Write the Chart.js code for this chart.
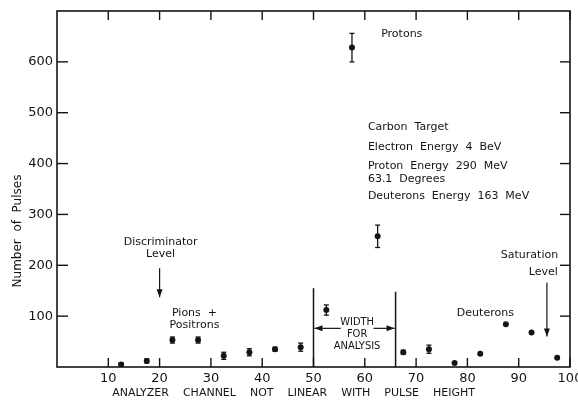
<!DOCTYPE html>
<html>
<head>
<meta charset="utf-8">
<script src="https://cdn.jsdelivr.net/npm/chart.js@4.4.0/dist/chart.umd.min.js"></script>
<style>
  html, body { margin: 0; padding: 0; background: #fff; }
  #wrap { width: 578px; height: 403px; }
</style>
</head>
<body>
<div id="wrap"><canvas id="pulses"></canvas></div>
<script>
// analyzer channel (bin centres) and counts
const channels = [12.5, 17.5, 22.5, 27.5, 32.5, 37.5, 42.5, 47.5, 52.5, 57.5, 62.5, 67.5, 72.5, 77.5, 82.5, 87.5, 92.5, 97.5];
const pulses = [5, 12, 53, 53, 22, 29, 35, 39, 112, 628, 257, 29, 35, 8, 26, 84, 68, 18];
const pulseErrors = [3, 4, 6, 6, 7, 7, 4, 8, 10, 28, 22, 4, 8, 0, 0, 0, 0, 0];
const xTicks = [10, 20, 30, 40, 50, 60, 70, 80, 90, 100];
const yTicks = [100, 200, 300, 400, 500, 600];

const INK = "#141414";
const FONT = "DejaVu Sans";

const paperPlugin = {
  id: "paper",
  afterDatasetsDraw(chart) {
    const { ctx, chartArea: a, scales: { x, y } } = chart;
    const line = (x1, y1, x2, y2) => { ctx.beginPath(); ctx.moveTo(x1, y1); ctx.lineTo(x2, y2); ctx.stroke(); };
    const arrow = (x1, y1, x2, y2) => {
      line(x1, y1, x2, y2);
      const ang = Math.atan2(y2 - y1, x2 - x1), len = 8, w = 3;
      ctx.beginPath();
      ctx.moveTo(x2, y2);
      ctx.lineTo(x2 - len * Math.cos(ang) + w * Math.sin(ang), y2 - len * Math.sin(ang) - w * Math.cos(ang));
      ctx.lineTo(x2 - len * Math.cos(ang) - w * Math.sin(ang), y2 - len * Math.sin(ang) + w * Math.cos(ang));
      ctx.closePath();
      ctx.fill();
    };
    const text = (s, vx, vy, align = "center", font = `11px ${FONT}`) => {
      ctx.font = font;
      ctx.textAlign = align;
      ctx.textBaseline = "middle";
      ctx.fillText(s, x.getPixelForValue(vx), y.getPixelForValue(vy));
    };

    ctx.save();
    ctx.strokeStyle = INK;
    ctx.fillStyle = INK;

    // frame + inward ticks on all four sides
    ctx.lineWidth = 1.6;
    ctx.strokeRect(a.left, a.top, a.right - a.left, a.bottom - a.top);
    ctx.lineWidth = 1.4;
    x.ticks.forEach(t => {
      const px = x.getPixelForValue(t.value);
      line(px, a.bottom, px, a.bottom - 9);
      line(px, a.top, px, a.top + 9);
    });
    y.ticks.forEach(t => {
      const py = y.getPixelForValue(t.value);
      line(a.left, py, a.left + 11, py);
      line(a.right, py, a.right - 10, py);
    });

    // error bars
    ctx.lineWidth = 1.3;
    channels.forEach((c, i) => {
      if (!pulseErrors[i]) return;
      const px = x.getPixelForValue(c);
      const top = y.getPixelForValue(pulses[i] + pulseErrors[i]);
      const bot = y.getPixelForValue(pulses[i] - pulseErrors[i]);
      line(px, top, px, bot);
      line(px - 2.5, top, px + 2.5, top);
      line(px - 2.5, bot, px + 2.5, bot);
    });

    // width for analysis
    ctx.lineWidth = 1.5;
    line(x.getPixelForValue(50), a.bottom, x.getPixelForValue(50), y.getPixelForValue(155));
    line(x.getPixelForValue(66), a.bottom, x.getPixelForValue(66), y.getPixelForValue(148));
    ctx.lineWidth = 1.2;
    arrow(x.getPixelForValue(55.3), y.getPixelForValue(76), x.getPixelForValue(50.2), y.getPixelForValue(76));
    arrow(x.getPixelForValue(61.7), y.getPixelForValue(76), x.getPixelForValue(65.8), y.getPixelForValue(76));
    const narrow = `11px "DejaVu Sans Condensed", ${FONT}`;
    text("WIDTH", 58.5, 89, "center", narrow);
    text("FOR", 58.5, 65, "center", narrow);
    text("ANALYSIS", 58.5, 41, "center", narrow);

    // level arrows
    arrow(x.getPixelForValue(20), y.getPixelForValue(194), x.getPixelForValue(20), y.getPixelForValue(137));
    arrow(x.getPixelForValue(95.5), y.getPixelForValue(166), x.getPixelForValue(95.5), y.getPixelForValue(60));

    // labels
    text("Discriminator", 20.2, 245);
    text("Level", 20.2, 222);
    text("Pions  +", 26.8, 105);
    text("Positrons", 26.8, 82);
    text("Protons", 67.2, 655);
    text("Deuterons", 83.5, 106);
    text("Saturation", 92.1, 220);
    text("Level", 94.8, 186);
    text("Carbon  Target", 60.6, 472, "left");
    text("Electron  Energy  4  BeV", 60.6, 433, "left");
    text("Proton  Energy  290  MeV", 60.6, 394, "left");
    text("63.1  Degrees", 60.6, 369, "left");
    text("Deuterons  Energy  163  MeV", 60.6, 336, "left");

    // axis titles
    ctx.font = `11px ${FONT}`;
    ctx.textAlign = "left";
    ctx.textBaseline = "middle";
    ctx.fillText("ANALYZER    CHANNEL    NOT    LINEAR    WITH    PULSE    HEIGHT", x.getPixelForValue(10.75), 393);
    ctx.translate(18, 231);
    ctx.rotate(-Math.PI / 2);
    ctx.font = `12px ${FONT}`;
    ctx.textAlign = "center";
    ctx.fillText("Number  of  Pulses", 0, 0);
    ctx.restore();
  }
};

new Chart(document.getElementById("pulses"), {
  type: "scatter",
  data: {
    datasets: [{
      label: "Number of Pulses",
      data: channels.map((c, i) => ({ x: c, y: pulses[i] })),
      pointRadius: 3,
      pointBackgroundColor: INK,
      pointBorderWidth: 0
    }]
  },
  options: {
    responsive: true,
    maintainAspectRatio: false,
    animation: false,
    layout: { padding: { left: 0, right: 8, top: 11, bottom: 0 } },
    plugins: { legend: { display: false }, tooltip: { enabled: false } },
    scales: {
      x: {
        type: "linear",
        min: 0,
        max: 100,
        afterBuildTicks: s => { s.ticks = xTicks.map(v => ({ value: v })); },
        // keep the plot edge at the frame, let the "100" run off the page like the scan
        afterFit: s => { s.height = 36; s.paddingLeft = 0; s.paddingRight = 0; },
        grid: { display: false, drawTicks: false },
        border: { display: false },
        ticks: { color: INK, font: { family: FONT, size: 13 }, padding: 4, autoSkip: false, maxRotation: 0 }
      },
      y: {
        min: 0,
        max: 700,
        afterBuildTicks: s => { s.ticks = yTicks.map(v => ({ value: v })); },
        afterFit: s => { s.width = 57; s.paddingTop = 0; s.paddingBottom = 0; },
        grid: { display: false, drawTicks: false },
        border: { display: false },
        ticks: { color: INK, font: { family: FONT, size: 13 }, padding: 4 }
      }
    }
  },
  plugins: [paperPlugin]
});
</script>
</body>
</html>
